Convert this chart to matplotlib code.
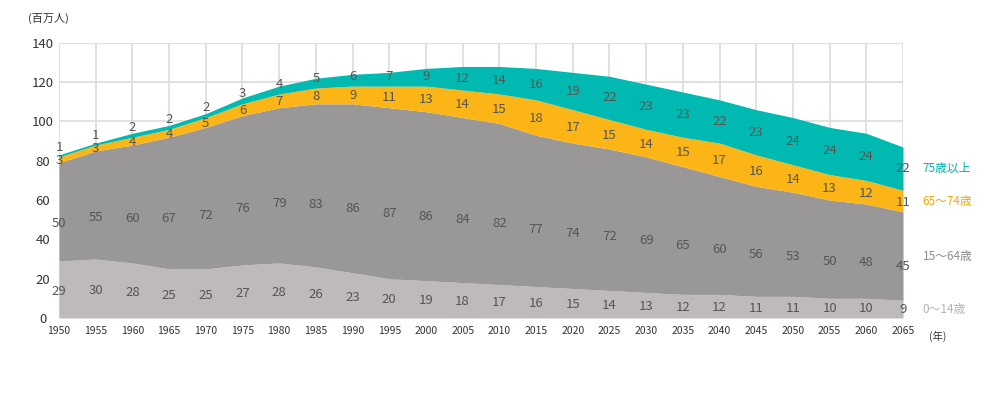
"""
Japan population by age group, 1950-2065 (stacked area, millions).
"""

import matplotlib

matplotlib.use("Agg")
import matplotlib.pyplot as plt  # noqa: E402
import numpy as np  # noqa: E402

plt.rcParams["font.family"] = ["Noto Sans CJK JP", "DejaVu Sans"]

# --------------------------------------------------------------------------- #
# Data (millions of people)
# --------------------------------------------------------------------------- #

YEARS = list(range(1950, 2066, 5))
AGE_0_14 = [29, 30, 28, 25, 25, 27, 28, 26, 23, 20, 19, 18, 17, 16, 15, 14,
            13, 12, 12, 11, 11, 10, 10, 9]
AGE_15_64 = [50, 55, 60, 67, 72, 76, 79, 83, 86, 87, 86, 84, 82, 77, 74, 72,
             69, 65, 60, 56, 53, 50, 48, 45]
AGE_65_74 = [3, 3, 4, 4, 5, 6, 7, 8, 9, 11, 13, 14, 15, 18, 17, 15,
             14, 15, 17, 16, 14, 13, 12, 11]
AGE_75_UP = [1, 1, 2, 2, 2, 3, 4, 5, 6, 7, 9, 12, 14, 16, 19, 22,
             23, 23, 22, 23, 24, 24, 24, 22]

GROUP_NAMES = ["0～14歳", "15～64歳", "65～74歳", "75歳以上"]
COLORS = ["#bdbab9", "#9a9799", "#fbb517", "#00bab1"]
NAME_COLORS = ["#b5b3b3", "#8f8c8e", "#f5a800", "#00b2aa"]
NUM_COLOR = "#555555"
GRID = "#dedede"

# --------------------------------------------------------------------------- #
# Plot
# --------------------------------------------------------------------------- #

x = np.array(YEARS)
groups = [np.array(g, dtype=float) for g in (AGE_0_14, AGE_15_64, AGE_65_74, AGE_75_UP)]

fig = plt.figure(figsize=(10, 3.97), dpi=100)
ax = fig.add_axes([0.059, 0.199, 0.844, 0.693])

base = np.zeros_like(x, dtype=float)
bounds = []
for vals, color in zip(groups, COLORS):
    top = base + vals
    ax.fill_between(x, base, top, color=color, lw=0, zorder=2)
    bounds.append((base.copy(), top.copy()))
    base = top

# value labels in each band (thin 75+ band early on: label sits above it)
for gi, (vals, (lo, hi)) in enumerate(zip(groups, bounds)):
    for xi, v, b, t in zip(x, vals, lo, hi):
        if gi == 0:
            yl = v * 0.46
        elif gi == 1:
            yl = b + v * 0.38
        elif gi == 2:
            yl = (b + t) / 2 - 0.5
        else:
            yl = max((b + t) / 2, t + 5 - v)
        ax.text(xi, yl, f"{int(v)}", ha="center", va="center",
                fontsize=9.5, color=NUM_COLOR, zorder=4)

# group names on the right, level with each band at 2065
for name, ncolor, (lo, hi) in zip(GROUP_NAMES, NAME_COLORS, bounds):
    ax.annotate(name, xy=(x[-1], (lo[-1] + hi[-1]) / 2), xytext=(14, 0),
                textcoords="offset points", ha="left", va="center",
                fontsize=8.5, color=ncolor, annotation_clip=False)

ax.set_xlim(1950, 2065)
ax.set_ylim(0, 140)
ax.set_xticks(YEARS)
ax.set_xticklabels([str(y) for y in YEARS], fontsize=7.5, color="#333333")
ax.set_yticks(range(0, 141, 20))
ax.set_yticklabels([str(v) for v in range(0, 141, 20)], fontsize=9.5,
                   color="#333333", ha="center")
ax.tick_params(axis="y", length=0, pad=11.5)
ax.tick_params(axis="x", length=0, pad=6)
ax.grid(True, color=GRID, lw=1.3, zorder=0)
ax.set_axisbelow(True)
for s in ax.spines.values():
    s.set_visible(False)

fig.text(0.028, 1 - 18 / 397, "(百万人)", fontsize=8, color="#333333",
         ha="left", va="center")
fig.text(0.938, 1 - 336 / 397, "(年)", fontsize=7.5, color="#333333",
         ha="center", va="center")

fig.savefig("out.png", dpi=100)
